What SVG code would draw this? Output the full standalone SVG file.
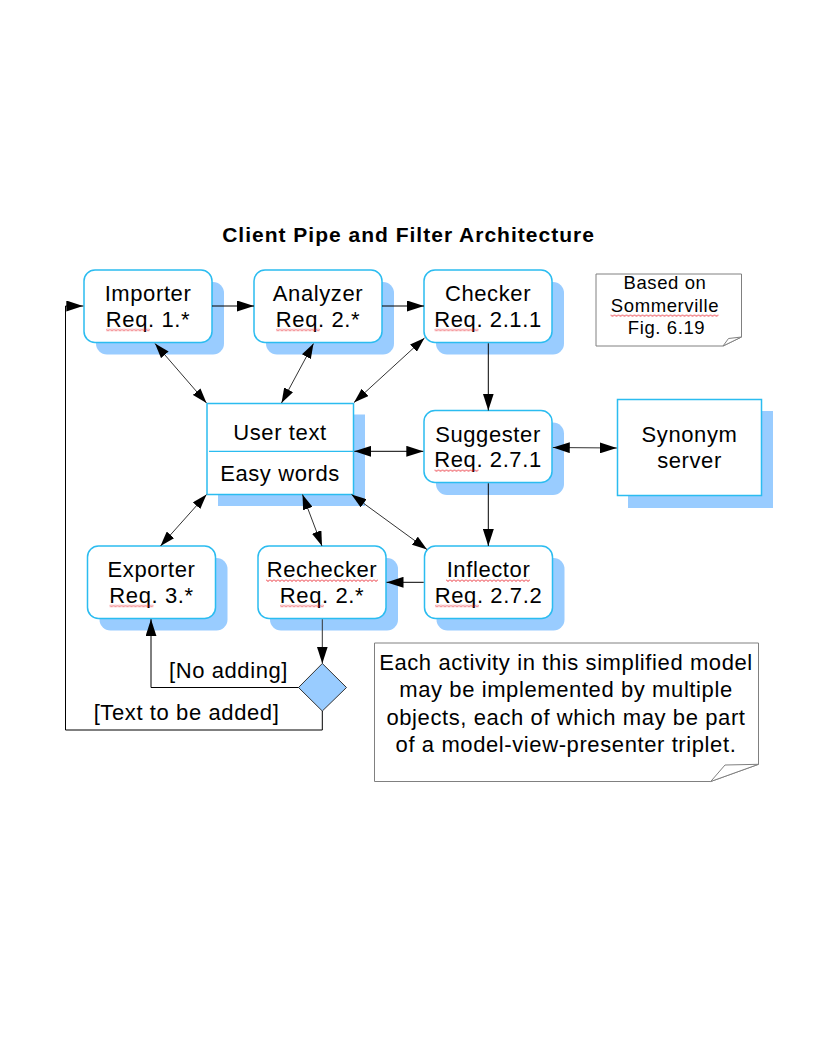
<svg xmlns="http://www.w3.org/2000/svg" width="816" height="1056" viewBox="0 0 816 1056">
<style>
  .shadow { fill: #99ccff; stroke: none; }
  .node { fill: #ffffff; stroke: #2bbcf0; stroke-width: 1.5; }
  .t { font-family: "Liberation Sans", Arial, sans-serif; font-size: 22px; letter-spacing: 0.6px; fill: #000; text-anchor: middle; }
  .small { font-size: 18.5px; }
  .title { font-family: "Liberation Sans", Arial, sans-serif; font-size: 21px; font-weight: bold; letter-spacing: 1px; fill: #000; text-anchor: middle; }
  .note { fill: #ffffff; stroke: #808080; stroke-width: 1; }
  .fold { fill: #ffffff; stroke: #808080; stroke-width: 1; }
  .c { fill: none; stroke: #000; stroke-width: 1; }
  .cd { fill: none; stroke: #333; stroke-width: 1; }
  .wave { fill: url(#wv); }
</style>
<defs>
  <marker id="ah" viewBox="0 0 17 11" refX="17" refY="5.5" markerWidth="17" markerHeight="11" markerUnits="userSpaceOnUse" orient="auto-start-reverse">
    <path d="M0,0 L17,5.5 L0,11 z" fill="#000"/>
  </marker>
  <marker id="as" viewBox="0 0 15 10" refX="15" refY="5" markerWidth="15" markerHeight="10" markerUnits="userSpaceOnUse" orient="auto-start-reverse">
    <path d="M0,0 L15,5 L0,10 z" fill="#000"/>
  </marker>
  <pattern id="wv" width="4" height="3" patternUnits="userSpaceOnUse">
    <path d="M0,0.5 L2,2.5 L4,0.5" fill="none" stroke="#e8141e" stroke-width="0.9"/>
  </pattern>
</defs>

<rect width="816" height="1056" fill="#ffffff"/>

<text class="title" x="408.5" y="241.5">Client Pipe and Filter Architecture</text>

<g id="importer">
  <rect class="shadow" x="96" y="282" width="128" height="72.5" rx="11"/>
  <rect class="node" x="84" y="270" width="128" height="72.5" rx="11"/>
  <text class="t" x="148" y="301">Importer</text>
  <text class="t" x="148" y="326.5">Req. 1.*</text>
</g>

<g id="analyzer">
  <rect class="shadow" x="266" y="282" width="128" height="72.5" rx="11"/>
  <rect class="node" x="254" y="270" width="128" height="72.5" rx="11"/>
  <text class="t" x="318" y="301">Analyzer</text>
  <text class="t" x="318" y="326.5">Req. 2.*</text>
</g>

<g id="checker">
  <rect class="shadow" x="436" y="282" width="128" height="72.5" rx="11"/>
  <rect class="node" x="424" y="270" width="128" height="72.5" rx="11"/>
  <text class="t" x="488" y="301">Checker</text>
  <text class="t" x="488" y="326.5">Req. 2.1.1</text>
</g>

<g id="based-on-note">
  <path class="note" d="M596,274 L741.5,274 L741.5,337 L723,346 L596,346 Z"/>
  <path class="fold" d="M723,346 L728.5,338.5 L741.5,337 Z"/>
  <text class="t small" x="665" y="289">Based on</text>
  <text class="t small" x="665" y="312">Sommerville</text>
  <text class="t small" x="666.5" y="334">Fig. 6.19</text>
</g>

<g id="user-text">
  <rect class="shadow" x="218" y="414.5" width="147" height="91.5"/>
  <rect class="node" x="207" y="403.5" width="146.5" height="91"/>
  <line x1="209" y1="451.3" x2="353" y2="451.3" stroke="#2bbcf0" stroke-width="1.2"/>
  <text class="t" x="280" y="440">User text</text>
  <text class="t" x="280" y="480.5">Easy words</text>
</g>

<g id="suggester">
  <rect class="shadow" x="436" y="422.5" width="128" height="72.5" rx="11"/>
  <rect class="node" x="424" y="410.5" width="128" height="72" rx="11"/>
  <text class="t" x="488" y="441.5">Suggester</text>
  <text class="t" x="488" y="467">Req. 2.7.1</text>
</g>

<g id="synonym-server">
  <rect class="shadow" x="628" y="411" width="145" height="97"/>
  <rect class="node" x="617.5" y="399.5" width="144" height="96"/>
  <text class="t" x="689.5" y="442">Synonym</text>
  <text class="t" x="689.5" y="468">server</text>
</g>

<g id="exporter">
  <rect class="shadow" x="99.5" y="558" width="128" height="72.5" rx="11"/>
  <rect class="node" x="87.5" y="546" width="128" height="72.5" rx="11"/>
  <text class="t" x="151.5" y="577">Exporter</text>
  <text class="t" x="151.5" y="602.5">Req. 3.*</text>
</g>

<g id="rechecker">
  <rect class="shadow" x="270" y="558" width="128" height="72.5" rx="11"/>
  <rect class="node" x="258" y="546" width="128" height="72.5" rx="11"/>
  <text class="t" x="322" y="577">Rechecker</text>
  <text class="t" x="322" y="602.5">Req. 2.*</text>
</g>

<g id="inflector">
  <rect class="shadow" x="436.5" y="558" width="128" height="72.5" rx="11"/>
  <rect class="node" x="424.5" y="546" width="128" height="72.5" rx="11"/>
  <text class="t" x="488.5" y="577">Inflector</text>
  <text class="t" x="488.5" y="602.5">Req. 2.7.2</text>
</g>

<g id="decision">
  <path d="M322.3,663.5 L346.5,687.5 L322.3,711 L298.5,687.5 Z" fill="#99ccff" stroke="#333" stroke-width="1"/>
</g>

<g id="guard-labels">
  <text class="t" x="228.5" y="678">[No adding]</text>
  <text class="t" x="186.5" y="720">[Text to be added]</text>
</g>

<g id="model-note">
  <path class="note" d="M374.5,643 L758.5,643 L758.5,764.3 L710.7,781.5 L374.5,781.5 Z"/>
  <path class="fold" d="M710.7,781.5 L725,765 L758.5,764.3 Z"/>
  <text class="t" x="566" y="670">Each activity in this simplified model</text>
  <text class="t" x="566" y="697">may be implemented by multiple</text>
  <text class="t" x="566" y="724.5">objects, each of which may be part</text>
  <text class="t" x="566" y="752">of a model-view-presenter triplet.</text>
</g>

<g id="spellcheck-marks">
  <rect class="wave" x="0" y="0" width="44" height="3" transform="translate(106,328.5)"/>
  <rect class="wave" x="0" y="0" width="44" height="3" transform="translate(276,328.5)"/>
  <rect class="wave" x="0" y="0" width="44" height="3" transform="translate(434.5,328.5)"/>
  <rect class="wave" x="0" y="0" width="44" height="3" transform="translate(434.5,469)"/>
  <rect class="wave" x="0" y="0" width="84" height="3" transform="translate(446,579)"/>
  <rect class="wave" x="0" y="0" width="44" height="3" transform="translate(435,604.5)"/>
  <rect class="wave" x="0" y="0" width="44" height="3" transform="translate(109.5,604.5)"/>
  <rect class="wave" x="0" y="0" width="112" height="3" transform="translate(266,579)"/>
  <rect class="wave" x="0" y="0" width="44" height="3" transform="translate(280,604.5)"/>
  <rect class="wave" x="0" y="0" width="108" height="3" transform="translate(610.5,314)"/>
</g>

<g id="connectors">
  <line class="c" x1="212" y1="306" x2="254" y2="306" marker-end="url(#ah)"/>
  <line class="c" x1="382" y1="306" x2="424" y2="306" marker-end="url(#ah)"/>
  <line class="c" x1="488.3" y1="343.3" x2="488.3" y2="410.5" marker-end="url(#ah)"/>
  <line class="c" x1="488.3" y1="483.3" x2="488.3" y2="546" marker-end="url(#ah)"/>
  <line class="c" x1="423.7" y1="582.3" x2="386.5" y2="582.3" marker-end="url(#ah)"/>
  <line class="cd" x1="322.3" y1="619.3" x2="322.3" y2="663.5" marker-end="url(#ah)"/>
  <polyline class="c" points="298.5,687.5 151,687.5 151,619.2" marker-end="url(#ah)"/>
  <polyline class="c" points="322.3,711 322.3,730 65.5,730 65.5,306 83.3,306" marker-end="url(#ah)"/>
  <line class="cd" x1="155" y1="343.5" x2="206.5" y2="403" marker-start="url(#as)" marker-end="url(#as)"/>
  <line class="cd" x1="313.5" y1="343.5" x2="281.5" y2="403" marker-start="url(#as)" marker-end="url(#as)"/>
  <line class="cd" x1="424.5" y1="338" x2="354" y2="402.5" marker-start="url(#as)" marker-end="url(#as)"/>
  <line class="c" x1="354.3" y1="451.3" x2="423.3" y2="451.3" marker-start="url(#ah)" marker-end="url(#ah)"/>
  <line class="cd" x1="552.8" y1="447.5" x2="616.8" y2="448" marker-start="url(#ah)" marker-end="url(#ah)"/>
  <line class="cd" x1="206.5" y1="494.5" x2="160.5" y2="546" marker-start="url(#as)" marker-end="url(#as)"/>
  <line class="cd" x1="302.5" y1="494.5" x2="322" y2="546" marker-start="url(#as)" marker-end="url(#as)"/>
  <line class="cd" x1="351.5" y1="494.5" x2="427" y2="549.5" marker-start="url(#as)" marker-end="url(#as)"/>
</g>
</svg>
